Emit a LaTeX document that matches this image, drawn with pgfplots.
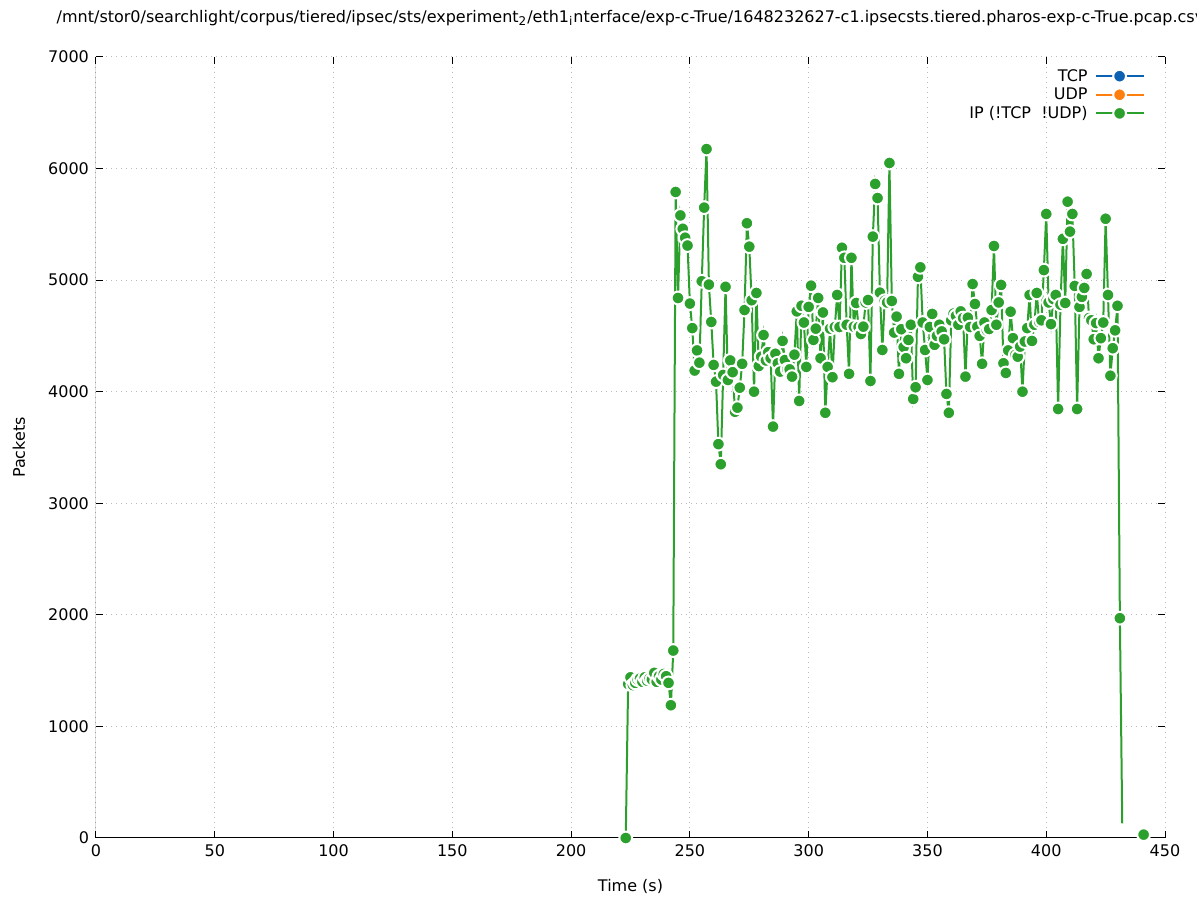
\documentclass[border=0pt]{standalone}
\usepackage{fontspec}
\setmainfont{DejaVu Sans}
\usepackage{pgfplots}
\pgfplotsset{compat=1.18}

\definecolor{tcpblue}{RGB}{12,98,178}
\definecolor{udporange}{RGB}{255,127,14}
\definecolor{ipgreen}{RGB}{44,160,44}
\definecolor{gridgray}{RGB}{185,185,185}

\begin{document}
\begin{tikzpicture}
\begin{axis}[
    name=ax,
    scale only axis,
    width=534.5pt, height=390.5pt,
    xmin=0, xmax=450, ymin=0, ymax=7000,
    xtick distance=50, ytick distance=1000,
    enlargelimits=false,
    font=\fontsize{8}{10}\selectfont,
    /pgf/number format/assume math mode=true,
    /pgf/number format/1000 sep={},
    axis line style={draw=none},
    tick style={black, line width=0.5pt},
    major tick length=3.5pt,
    tick align=inside,
    grid=major,
    major grid style={gridgray, line width=0.5pt, dash pattern=on 0.5pt off 2pt},
    xlabel={Time (s)},
    ylabel={Packets},
    xlabel style={at={(axis description cs:0.5,-0.0615)}, anchor=center},
    ylabel style={at={(axis description cs:-0.072,0.5)}, anchor=center},
    title={/mnt/stor0/searchlight/corpus/tiered/ipsec/sts/experiment\textsubscript{2}/eth1\textsubscript{i}nterface/exp-c-True/1648232627-c1.ipsecsts.tiered.pharos-exp-c-True.pcap.csv},
    title style={at={(axis description cs:0.5,1.0346)}, anchor=center},
    legend style={draw=none, fill=none, at={(axis description cs:1,1)}, anchor=north east,
        xshift=-10pt, yshift=-5.4pt, row sep=1.3pt, inner sep=0pt,
        nodes={inner sep=0pt, text height=6.5pt, text depth=1.5pt}},
    legend cell align=right,
    legend plot pos=right,
    legend image code/.code={%
        \draw[#1] (0pt,0pt) -- (24pt,0pt);
        \path[#1, draw=none] plot coordinates {(12pt,0pt)};},
    every axis plot/.append style={line width=1pt},
]
\addlegendimage{tcpblue, mark=*, mark size=3.2pt, mark options={fill=tcpblue, draw=white, line width=1pt}}
\addlegendentry{TCP\kern3.5pt}
\addlegendimage{udporange, mark=*, mark size=3.2pt, mark options={fill=udporange, draw=white, line width=1pt}}
\addlegendentry{UDP\kern3.5pt}
\addlegendimage{ipgreen, mark=*, mark size=3.2pt, mark options={fill=ipgreen, draw=white, line width=1pt}}
\addlegendentry{IP (!TCP\ \ !UDP)\kern3.5pt}

% tail of the series, drawn first so the last marker sits on top
\addplot[ipgreen, mark=none, forget plot] coordinates {(431,1970) (432,130)};

\addplot[ipgreen, mark=*, mark size=3.2pt, mark options={fill=ipgreen, draw=white, line width=1pt}, forget plot] coordinates {
(223,0) (224,1380) (225,1440) (226,1370) (227,1390) (228,1420) (229,1430)
(230,1400) (231,1440) (232,1410) (233,1430) (234,1420) (235,1480) (236,1400)
(237,1450) (238,1420) (239,1470) (240,1450) (241,1390) (242,1190) (243,1680)
(244,5790) (245,4840) (246,5580) (247,5460) (248,5380) (249,5310) (250,4790)
(251,4570) (252,4190) (253,4370) (254,4260) (255,4990) (256,5650) (257,6175)
(258,4960) (259,4625) (260,4240) (261,4090) (262,3530) (263,3350) (264,4150)
(265,4940) (266,4105) (267,4280) (268,4175) (269,3820) (270,3857) (271,4036)
(272,4250) (273,4732) (274,5510) (275,5300) (276,4820) (277,4000) (278,4885)
(279,4230) (280,4314) (281,4508) (282,4280) (283,4355) (284,4300) (285,3687)
(286,4340) (287,4255) (288,4180) (289,4455) (290,4284) (291,4200) (292,4200)
(293,4135) (294,4332) (295,4720) (296,3917) (297,4770) (298,4620) (299,4222)
(300,4760) (301,4950) (302,4464) (303,4565) (304,4840) (305,4300) (306,4710)
(307,3811) (308,4222) (309,4565) (310,4130) (311,4580) (312,4867) (313,4580)
(314,5290) (315,5200) (316,4600) (317,4160) (318,5200) (319,4583) (320,4795)
(321,4580) (322,4517) (323,4583) (324,4800) (325,4822) (326,4096) (327,5390)
(328,5862) (329,5736) (330,4888) (331,4374) (332,4815) (333,4800) (334,6050)
(335,4813) (336,4530) (337,4673) (338,4160) (339,4560) (340,4400) (341,4300)
(342,4464) (343,4600) (344,3935) (345,4040) (346,5030) (347,5115) (348,4620)
(349,4374) (350,4105) (351,4580) (352,4697) (353,4420) (354,4500) (355,4600)
(356,4540) (357,4470) (358,3980) (359,3811) (360,4640) (361,4700) (362,4680)
(363,4600) (364,4720) (365,4660) (366,4135) (367,4663) (368,4580) (369,4965)
(370,4786) (371,4583) (372,4500) (373,4250) (374,4620) (375,4550) (376,4562)
(377,4732) (378,5306) (379,4600) (380,4800) (381,4957) (382,4255) (383,4168)
(384,4370) (385,4717) (386,4480) (387,4330) (388,4314) (389,4404) (390,4000)
(391,4450) (392,4570) (393,4867) (394,4455) (395,4600) (396,4885) (397,4627)
(398,4640) (399,5090) (400,5593) (401,4800) (402,4606) (403,4830) (404,4867)
(405,3845) (406,4780) (407,5370) (408,4795) (409,5703) (410,5435) (411,5593)
(412,4948) (413,3845) (414,4760) (415,4850) (416,4930) (417,5055) (418,4660)
(419,4640) (420,4470) (421,4615) (422,4300) (423,4480) (424,4620) (425,5550)
(426,4867) (427,4143) (428,4390) (429,4550) (430,4770) (431,1970)
};

\addplot[ipgreen, mark=*, mark size=3.2pt, mark options={fill=ipgreen, draw=white, line width=1pt}, forget plot] coordinates {(441,30)};

\draw[black, line width=0.5pt] (rel axis cs:0,1) -- (rel axis cs:0,0) -- (rel axis cs:1,0);
\end{axis}
\pgfresetboundingbox
\path ([xshift=-48pt,yshift=-31pt]ax.south west) rectangle ([xshift=16pt,yshift=28.5pt]ax.north east);
\end{tikzpicture}
\end{document}
